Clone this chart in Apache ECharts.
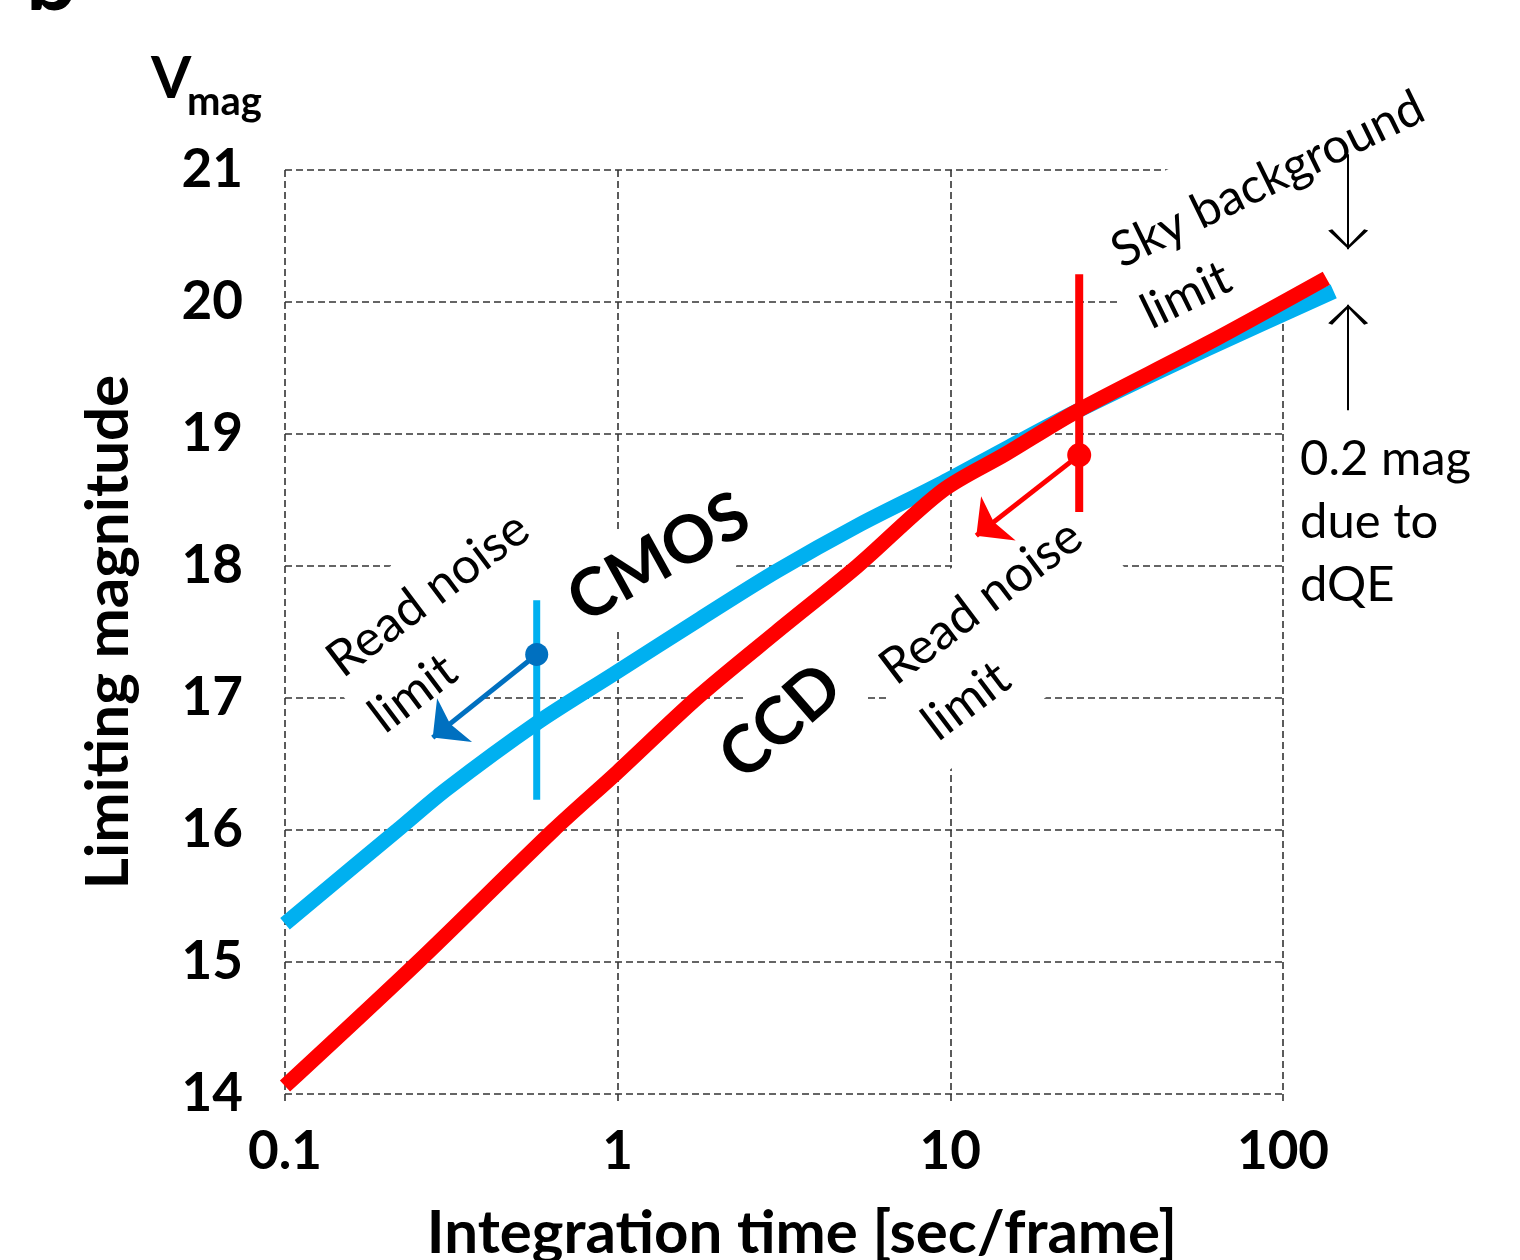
<!DOCTYPE html>
<html>
<head>
<meta charset="utf-8">
<script src="https://cdn.jsdelivr.net/npm/echarts@6/dist/echarts.min.js"></script>
<style>
html,body{margin:0;padding:0;background:#fff;}
#chart{width:1520px;height:1260px;}
</style>
</head>
<body>
<div id="chart"></div>
<script>
// ---------- data ----------
const cmosTime = [0.1, 0.218, 0.306, 0.571, 0.97, 1.77, 3.0, 5.3, 9.46, 14.7, 23.9, 58.7, 142];
const cmosMag  = [15.29, 16.0, 16.31, 16.81, 17.18, 17.60, 17.96, 18.31, 18.63, 18.89, 19.17, 19.64, 20.08];
const ccdTime  = [0.1, 0.251, 0.642, 1.0, 1.73, 3.0, 5.26, 9.46, 14.7, 23.9, 58.7, 135];
const ccdMag   = [14.06, 15.0, 16.0, 16.44, 17.0, 17.5, 18.0, 18.57, 18.85, 19.17, 19.68, 20.18];
const xTickValues = [0.1, 1, 10, 100];
const yTickValues = [14, 15, 16, 17, 18, 19, 20, 21];
// read-noise-limit markers: [time, mag]
const cmosNoiseBar   = [[0.571, 16.23], [0.571, 17.74]];
const cmosNoisePoint = [[0.571, 17.33]];
const cmosNoiseArrow = [[0.571, 17.33], [0.278, 16.70]];
const ccdNoiseBar    = [[24.4, 18.41], [24.4, 20.21]];
const ccdNoisePoint  = [[24.4, 18.84]];
const ccdNoiseArrow  = [[24.4, 18.84], [11.97, 18.23]];
// 0.2 mag bracket arrows
const dqeArrowDown = [[157, 21.12], [157, 20.40]];
const dqeArrowUp   = [[157, 19.18], [157, 19.98]];
// the curves run a little past the last tick; plotting range of the hidden axis
const plotTimeMax = 160;

const FONT = 'Lato';
const BLUE = '#00B0F0', DBLUE = '#0070C0', RED = '#FF0000';
const zip = (a, b) => a.map((v, i) => [v, b[i]]);
const deg = d => d * Math.PI / 180;
// arrow heads with the tip at the symbol centre
const filledHead = 'path://M10,-24L10.01,-24L10,-23.99Z M10,0L20,24L10,19L0,24Z';
const openHead = 'path://M10,-22L10.01,-22L10,-21.99Z M0,20L10,0L20,20L18,21.5L10,3.5L2,21.5Z';

const GL = 285, GT = 170, GW = 998, GH = 924;
const decades = Math.log10(xTickValues[xTickValues.length - 1] / xTickValues[0]);
const GW2 = GW * Math.log10(plotTimeMax / xTickValues[0]) / decades;

const chart = echarts.init(document.getElementById('chart'), null, {renderer: 'canvas'});
const dash = {color: '#333', width: 1.6, type: [7, 4]};

const textBox = (txt, x, y, rot, size, weight, align, vAlign, lh, pad, z) => ({
  type: 'text', x: x, y: y, rotation: deg(rot), z: z,
  style: {
    text: txt, fill: '#000', fontFamily: FONT, fontSize: size, fontWeight: weight,
    align: align, verticalAlign: vAlign, lineHeight: lh,
    backgroundColor: '#fff', padding: pad
  }
});
const onPlot = {xAxisIndex: 1, yAxisIndex: 1};

const option = {
  backgroundColor: '#fff',
  animation: false,
  grid: [
    {left: GL, top: GT, width: GW, height: GH, containLabel: false, outerBoundsMode: 'none'},
    {left: GL, top: GT, width: GW2, height: GH, containLabel: false, outerBoundsMode: 'none'}
  ],
  xAxis: [{
    gridIndex: 0, type: 'log', logBase: 10, min: xTickValues[0], max: xTickValues[xTickValues.length - 1],
    axisLine: {show: false},
    axisTick: {show: true, length: 10, lineStyle: dash},
    splitLine: {show: true, lineStyle: dash},
    minorTick: {show: false}, minorSplitLine: {show: false},
    axisLabel: {
      margin: 31, color: '#000', fontFamily: FONT, fontWeight: 'bold', fontSize: 53,
      formatter: v => String(+(+v).toPrecision(3))
    },
    name: 'Integration time [sec/frame]',
    nameLocation: 'middle', nameGap: 110,
    nameTextStyle: {color: '#000', fontFamily: FONT, fontWeight: 'bold', fontSize: 60, padding: [0, 0, 0, 36]}
  }, {
    gridIndex: 1, type: 'log', logBase: 10, min: xTickValues[0], max: plotTimeMax, show: false,
    splitLine: {show: false}
  }],
  yAxis: [{
    gridIndex: 0, type: 'value', min: yTickValues[0], max: yTickValues[yTickValues.length - 1], interval: 1,
    axisLine: {show: false}, axisTick: {show: false},
    splitLine: {show: true, lineStyle: dash},
    axisLabel: {margin: 42, color: '#000', fontFamily: FONT, fontWeight: 'bold', fontSize: 53},
    name: 'Limiting magnitude',
    nameLocation: 'middle', nameGap: 146, nameRotate: 90,
    nameTextStyle: {color: '#000', fontFamily: FONT, fontWeight: 'bold', fontSize: 60}
  }, {
    gridIndex: 1, type: 'value', min: yTickValues[0], max: yTickValues[yTickValues.length - 1], show: false,
    splitLine: {show: false}
  }],
  series: [
    Object.assign({name: 'CMOS', type: 'line', data: zip(cmosTime, cmosMag), showSymbol: false, symbol: 'none',
     smooth: 0.3, clip: false, z: 3, lineStyle: {color: BLUE, width: 15, cap: 'butt'}}, onPlot),
    Object.assign({name: 'CCD', type: 'line', data: zip(ccdTime, ccdMag), showSymbol: false, symbol: 'none',
     smooth: 0.3, clip: false, z: 4, lineStyle: {color: RED, width: 15, cap: 'butt'}}, onPlot),
    Object.assign({type: 'line', data: cmosNoiseBar, symbol: 'none', clip: false, z: 5,
     lineStyle: {color: BLUE, width: 7}}, onPlot),
    Object.assign({type: 'line', data: ccdNoiseBar, symbol: 'none', clip: false, z: 5,
     lineStyle: {color: RED, width: 8}}, onPlot),
    Object.assign({type: 'lines', coordinateSystem: 'cartesian2d', clip: false, z: 6,
     symbol: ['none', filledHead], symbolSize: [26, 56],
     lineStyle: {color: DBLUE, width: 5, opacity: 1, curveness: 0},
     data: [{coords: cmosNoiseArrow}]}, onPlot),
    Object.assign({type: 'lines', coordinateSystem: 'cartesian2d', clip: false, z: 6,
     symbol: ['none', filledHead], symbolSize: [26, 56],
     lineStyle: {color: RED, width: 5, opacity: 1, curveness: 0},
     data: [{coords: ccdNoiseArrow}]}, onPlot),
    Object.assign({type: 'scatter', data: cmosNoisePoint, symbolSize: 23, z: 7, clip: false,
     itemStyle: {color: DBLUE, opacity: 1}}, onPlot),
    Object.assign({type: 'scatter', data: ccdNoisePoint, symbolSize: 24, z: 7, clip: false,
     itemStyle: {color: RED, opacity: 1}}, onPlot),
    Object.assign({type: 'lines', coordinateSystem: 'cartesian2d', clip: false, z: 6,
     symbol: ['none', openHead], symbolSize: [20, 40],
     lineStyle: {color: '#000', width: 2, opacity: 1, curveness: 0},
     data: [{coords: dqeArrowDown}, {coords: dqeArrowUp}]}, onPlot)
  ],
  graphic: [
    {type: 'text', x: 26, y: 26, z: 1,
     style: {text: 'b', fill: '#000', fontFamily: FONT, fontWeight: 'bold', fontSize: 90, align: 'left', verticalAlign: 'bottom'}},
    {type: 'text', x: 151, y: 79, z: 1,
     style: {text: 'V', fill: '#000', fontFamily: FONT, fontWeight: 'bold', fontSize: 58, align: 'left', verticalAlign: 'middle'}},
    {type: 'text', x: 187, y: 102, z: 1,
     style: {text: 'mag', fill: '#000', fontFamily: FONT, fontWeight: 'bold', fontSize: 40, align: 'left', verticalAlign: 'middle'}},
    textBox('Read noise\nlimit', 346, 700, 37, 50, 'normal', 'left', 'middle', 70, [2, 12, 18, 10], 1),
    textBox('Read noise\nlimit', 896, 710, 37, 50, 'normal', 'left', 'middle', 70, [2, 16, 18, 14], 1),
    textBox('Sky background\nlimit', 1115, 292, 26, 49, 'normal', 'left', 'middle', 68, [4, 10, 34, 16], 1),
    textBox('CMOS', 659, 558, 29, 66, 'bold', 'center', 'middle', 72, [4, 12, 12, 12], 1.5),
    textBox('CCD', 781, 722, 41, 66, 'bold', 'center', 'middle', 72, [4, 12, 8, 12], 1.5),
    {type: 'text', x: 1300, y: 522, z: 1,
     style: {text: '0.2 mag\ndue to\ndQE', fill: '#000', fontFamily: FONT, fontSize: 49, lineHeight: 63,
             align: 'left', verticalAlign: 'middle'}}
  ]
};
chart.setOption(option);
</script>
</body>
</html>
